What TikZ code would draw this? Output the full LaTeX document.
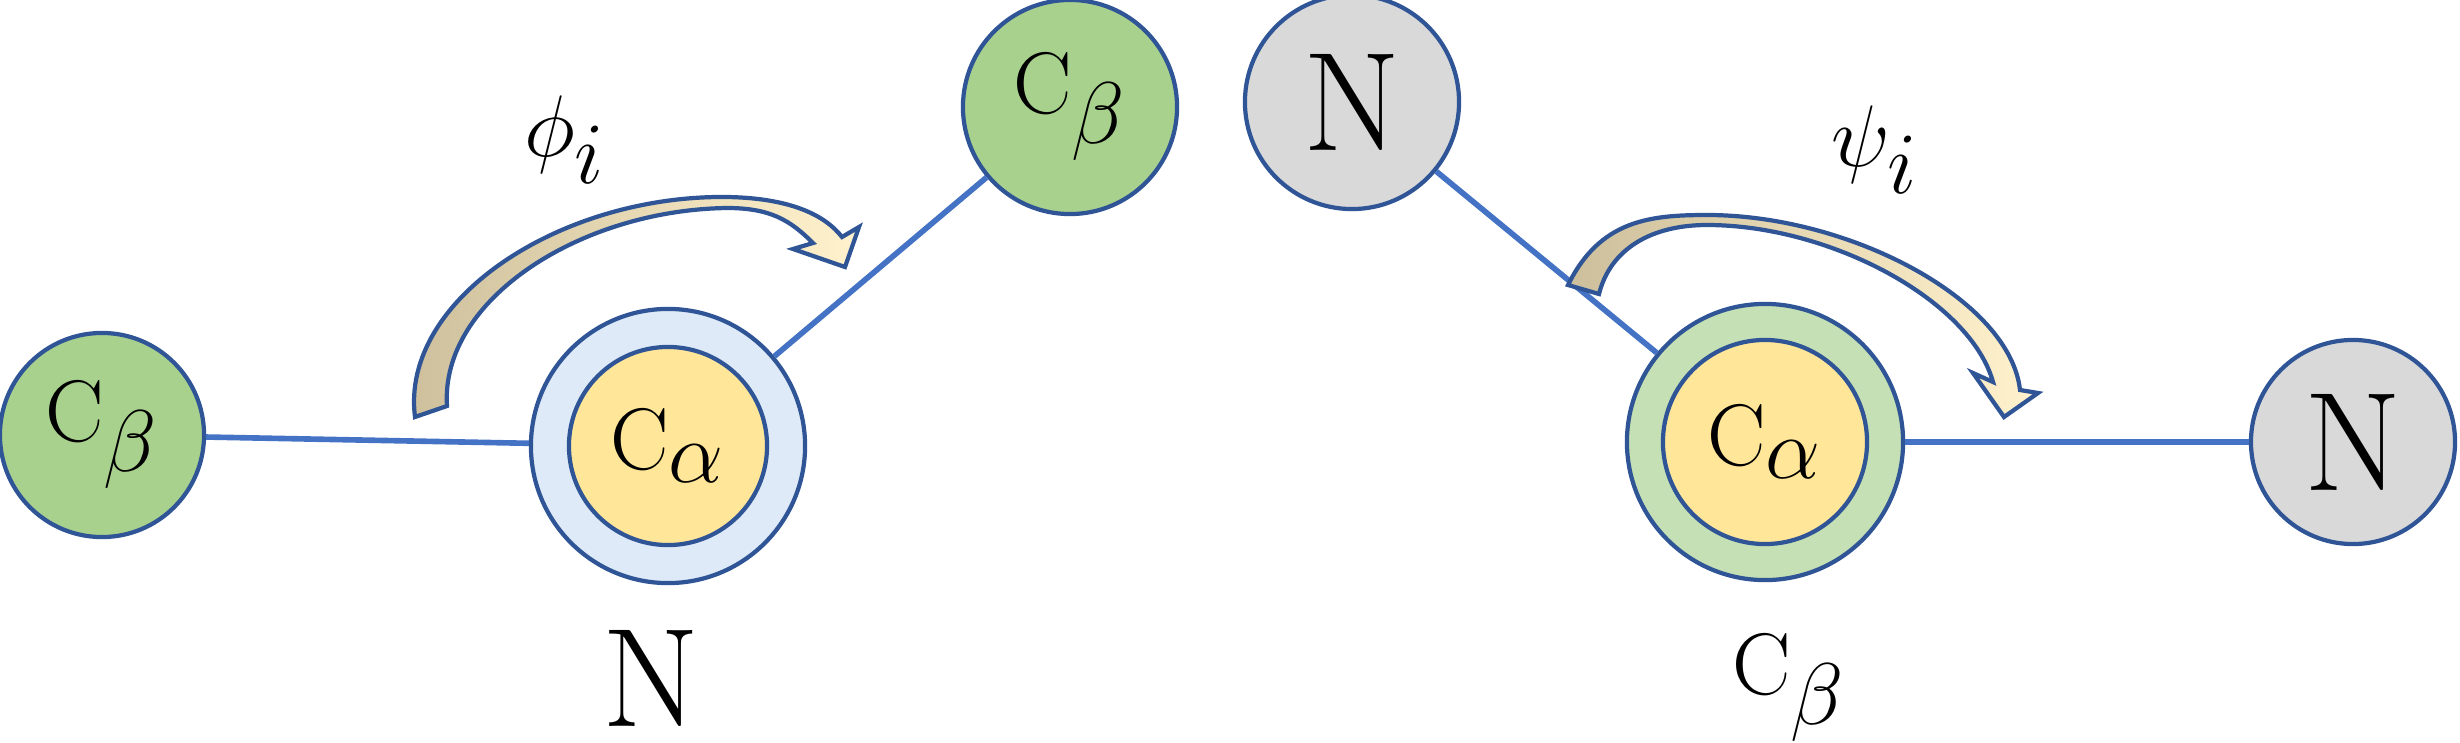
\documentclass[tikz,border=0pt]{standalone}
\usepackage{amsmath,amssymb}
\usetikzlibrary{positioning}
\definecolor{atomgreen}{HTML}{A9D18E}
\definecolor{atomgray}{HTML}{D9D9D9}
\definecolor{atomyellow}{HTML}{FFE699}
\definecolor{ringblue}{HTML}{DEEAF7}
\definecolor{ringgreen}{HTML}{C5E0B4}
\definecolor{edgeblue}{HTML}{2F5597}
\definecolor{bondblue}{HTML}{4472C4}
\definecolor{tailtan}{HTML}{CDBF9B}
\definecolor{headcream}{HTML}{FFF2CC}
\begin{document}
\begin{tikzpicture}[
        x=0.01cm, y=-0.01cm,
        every node/.style={font=\fontsize{40}{46}\selectfont},
        atom/.style={circle, draw=edgeblue, line width=1.2pt, inner sep=0pt, minimum size=#1},
        bond/.style={draw=bondblue, line width=1.6pt},
        twist/.style={draw=edgeblue, line width=1.2pt, left color=tailtan, right color=headcream},
    ]
    \useasboundingbox (0,0) rectangle (2460,742);
    % atoms
    \node[atom=2.04cm, fill=atomgreen] (cbl) at (102,435) {$\mathrm{C}_\beta$};
    \node[atom=2.74cm, fill=ringblue] (cal) at (668,446) {};
    \node[atom=1.98cm, fill=atomyellow] (cali) at (668,446) {$\mathrm{C}_\alpha$};
    \node[atom=2.14cm, fill=atomgreen] (cbt) at (1070,107) {$\mathrm{C}_\beta$};
    \node[atom=2.14cm, fill=atomgray] (nt) at (1352,102) {N};
    \node[atom=2.76cm, fill=ringgreen] (car) at (1765,442) {};
    \node[atom=2.04cm, fill=atomyellow] (cari) at (1765,442) {$\mathrm{C}_\alpha$};
    \node[atom=2.04cm, fill=atomgray] (nr) at (2353,442) {N};
    % labels
    \node (nl) at (651,678) {N};
    \node (cbr) at (1789,688) {$\mathrm{C}_\beta$};
    \node[font=\fontsize{50}{56}\selectfont] (phi) at (565,140) {$\phi_i$};
    \node[font=\fontsize{50}{56}\selectfont] (psi) at (1875,150) {$\psi_i$};
    % bonds
    \draw[bond] (cbl) -- (cal);
    \draw[bond] (cal) -- (cbt);
    \draw[bond] (nt) -- (car);
    \draw[bond] (car) -- (nr);
    % dihedral arrows
    \path[twist] (415,417) .. controls (400,300) and (560,195) .. (727,197)
        .. controls (790,198) and (825,215) .. (842,237) -- (859,227) -- (845,267)
        -- (793,249) -- (813,243) .. controls (790,220) and (770,208) .. (727,208)
        .. controls (580,210) and (440,300) .. (447,406) -- cycle;
    \path[twist] (1568,285) .. controls (1600,220) and (1650,215) .. (1707,215)
        .. controls (1850,215) and (2010,300) .. (2020,390) -- (2038,393) -- (2004,417)
        -- (1973,373) -- (1993,382) .. controls (1970,300) and (1830,225) .. (1707,225)
        .. controls (1650,225) and (1610,250) .. (1599,294) -- cycle;
\end{tikzpicture}
\end{document}
